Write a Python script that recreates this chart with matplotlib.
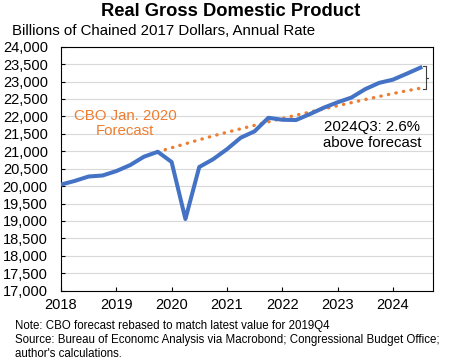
import matplotlib

matplotlib.use("Agg")
import matplotlib.pyplot as plt
from matplotlib.ticker import FuncFormatter, MultipleLocator

plt.rcParams["font.family"] = ["Liberation Sans", "DejaVu Sans"]

# real GDP, billions of chained 2017 dollars, quarterly
quarters = [
    "2018Q1", "2018Q2", "2018Q3", "2018Q4",
    "2019Q1", "2019Q2", "2019Q3", "2019Q4",
    "2020Q1", "2020Q2", "2020Q3", "2020Q4",
    "2021Q1", "2021Q2", "2021Q3", "2021Q4",
    "2022Q1", "2022Q2", "2022Q3", "2022Q4",
    "2023Q1", "2023Q2", "2023Q3", "2023Q4",
    "2024Q1", "2024Q2", "2024Q3",
]
gdp_actual = [
    20044, 20150, 20276, 20304,
    20431, 20603, 20844, 20985,
    20693, 19056, 20548, 20771,
    21058, 21389, 21572, 21961,
    21904, 21896, 22066, 22249,
    22404, 22540, 22781, 22961,
    23054, 23224, 23400,
]

# CBO Jan. 2020 forecast, rebased to 2019Q4
forecast_quarters = quarters[7:]
gdp_forecast = [
    20985, 21100, 21215, 21330, 21440,
    21545, 21645, 21745, 21845,
    21940, 22035, 22125, 22215,
    22305, 22395, 22485, 22570,
    22655, 22735, 22810,
]

title = "Real Gross Domestic Product"
subtitle = "Billions of Chained 2017 Dollars, Annual Rate"
footer = [
    "Note: CBO forecast rebased to match latest value for 2019Q4",
    "Source: Bureau of Economc Analysis via Macrobond; Congressional Budget Office;",
    "author's calculations.",
]

BLUE = "#4472C4"
ORANGE = "#ED7D31"


def to_year(q):
    return int(q[:4]) + (int(q[5]) - 1) / 4


x_act = [to_year(q) for q in quarters]
x_fc = [to_year(q) for q in forecast_quarters]

fig = plt.figure(figsize=(4.61, 3.64), dpi=100)
ax = fig.add_axes([0.1323, 0.2014, 0.807, 0.6703])

ax.plot(x_fc, gdp_forecast, color=ORANGE, lw=2.4, linestyle=(0, (0.1, 2.2)),
        dash_capstyle="round", zorder=3)
ax.plot(x_act, gdp_actual, color=BLUE, lw=2.9, solid_joinstyle="round", zorder=4)

ax.set_xlim(2018, 2024.727)
ax.set_ylim(17000, 24000)
ax.yaxis.set_major_locator(MultipleLocator(500))
ax.yaxis.set_major_formatter(FuncFormatter(lambda v, p: f"{v:,.0f}"))
ax.set_xticks(range(2018, 2025))
ax.grid(axis="y", color="#D9D9D9", lw=0.8)
ax.set_axisbelow(True)
for s in ax.spines.values():
    s.set_linewidth(0.8)
    s.set_color("black")
ax.tick_params(axis="y", direction="in", length=3, width=0.8, pad=9.5, labelsize=10.5)
ax.tick_params(axis="x", direction="in", length=3, width=0.8, pad=5, labelsize=10.5)

# bracket showing gap at latest quarter
top = gdp_actual[-1] + 45
bot = gdp_forecast[-1] - 25
mid = (top + bot) / 2
ax.plot([2024.54, 2024.595, 2024.595, 2024.54], [top, top, bot, bot],
        color="#404040", lw=0.8, clip_on=False)
ax.plot([2024.595, 2024.64], [mid, mid], color="#404040", lw=0.8, clip_on=False)

ax.text(2019.16, 21800, "CBO Jan. 2020\nForecast", color=ORANGE, fontsize=10.8,
        ha="center", va="center", linespacing=1.15)
ax.text(2023.62, 21465, "2024Q3: 2.6%\nabove forecast", color="black", fontsize=10.8,
        ha="center", va="center", linespacing=1.15)

fig.text(0.5, 1 - 12 / 364, title, fontsize=13.2, fontweight="bold", ha="center", va="center")
fig.text(12 / 461, 1 - 31 / 364, subtitle, fontsize=10.8, ha="left", va="center")
for i, line in enumerate(footer):
    fig.text(15 / 461, 1 - (326 + 14 * i) / 364, line, fontsize=8.3, ha="left", va="center")

fig.savefig("out.png", dpi=100)
